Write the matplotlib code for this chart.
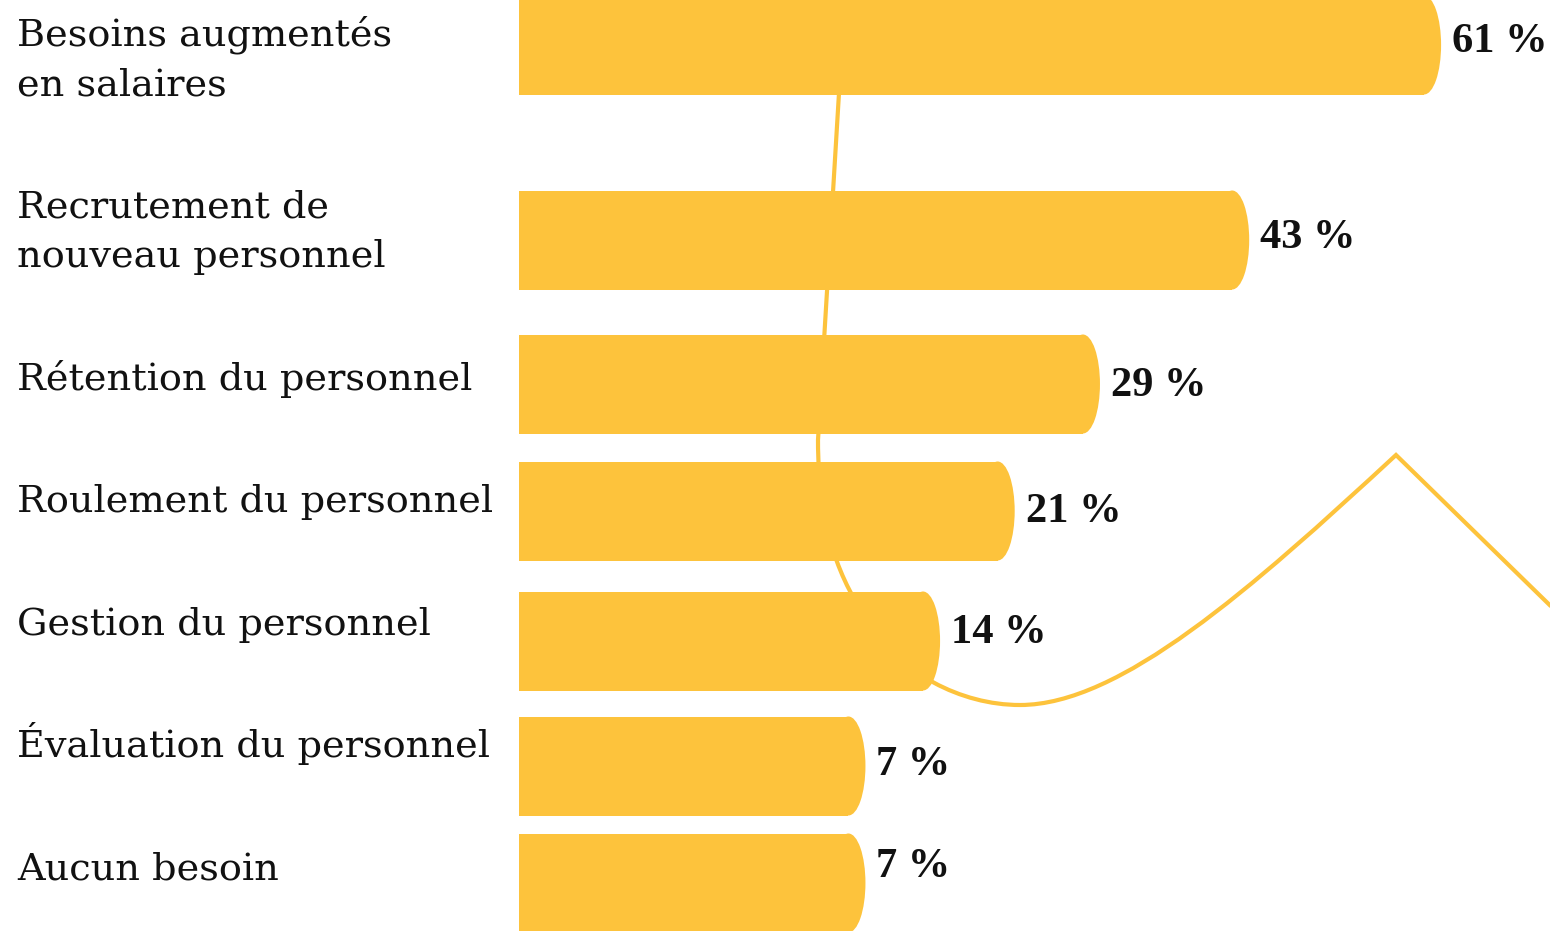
import matplotlib
matplotlib.use("Agg")
import matplotlib.pyplot as plt
from matplotlib.patches import Ellipse, PathPatch
from matplotlib.path import Path
from matplotlib.transforms import Affine2D

# ------------------------------
# data (top to bottom)
categories = [
    "Besoins augmentés\nen salaires",
    "Recrutement de\nnouveau personnel",
    "Rétention du personnel",
    "Roulement du personnel",
    "Gestion du personnel",
    "Évaluation du personnel",
    "Aucun besoin",
]
values = [61, 43, 29, 21, 14, 7, 7]

# ------------------------------
# layout (pixel units, figure is 1550 x 931)
W, H = 1550, 931
bar_y = [45, 240, 384, 511, 641, 766, 883]   # bar centres
bar_h = 99
label_dy = [0, -23, 6, 1, -6, -9, -3]        # baseline of first line
value_dy = [7, 8, 12, 11, 2, 9, -6]          # baseline of value text
line_h = 50
bar_left_px = 519
px_per_unit = 10.66
offset = 25.5       # bars start a bit left of zero
cap = 1.6           # rounded end, data units

yellow = "#FDC33C"
ink = "#111111"

fig = plt.figure(figsize=(W / 100, H / 100), dpi=100)
ax = fig.add_axes([0, 0, 1, 1])
x0 = -offset - bar_left_px / px_per_unit
ax.set_xlim(x0, x0 + W / px_per_unit)
ax.set_ylim(H, 0)
ax.axis("off")

# decorative line behind the bars (pixel coords)
px = Affine2D().scale(1 / W, -1 / H).translate(0, 1) + fig.transFigure
verts = [(841, 60), (818, 440),
         (818, 530), (840, 580), (870, 625),
         (900, 672), (960, 705), (1020, 705),
         (1120, 705), (1250, 590), (1396, 455),
         (1565, 620)]
codes = [Path.MOVETO, Path.LINETO,
         Path.CURVE4, Path.CURVE4, Path.CURVE4,
         Path.CURVE4, Path.CURVE4, Path.CURVE4,
         Path.CURVE4, Path.CURVE4, Path.CURVE4,
         Path.LINETO]
ax.add_patch(PathPatch(Path(verts, codes), transform=px, fill=False,
                       edgecolor=yellow, lw=3, zorder=1, capstyle="butt",
                       joinstyle="miter"))

# bars with rounded right end
ax.barh(bar_y, [v + offset - cap for v in values], left=-offset,
        height=bar_h, color=yellow, zorder=2)
for v, y in zip(values, bar_y):
    ax.add_patch(Ellipse((v - cap, y), 2 * cap, bar_h, color=yellow,
                         lw=0, zorder=2))

for cat, v, y, dl, dv in zip(categories, values, bar_y, label_dy, value_dy):
    for i, line in enumerate(cat.split("\n")):
        ax.text(x0 + 17 / px_per_unit, y + dl + i * line_h, line,
                ha="left", va="baseline", fontsize=27.5,
                family=["DejaVu Serif"], color=ink)
    ax.text(v + 11 / px_per_unit, y + dv, f"{v} %", ha="left",
            va="baseline", fontsize=30.5, family=["Liberation Serif"],
            fontweight="bold", color=ink)

fig.savefig("out.png", dpi=100)
